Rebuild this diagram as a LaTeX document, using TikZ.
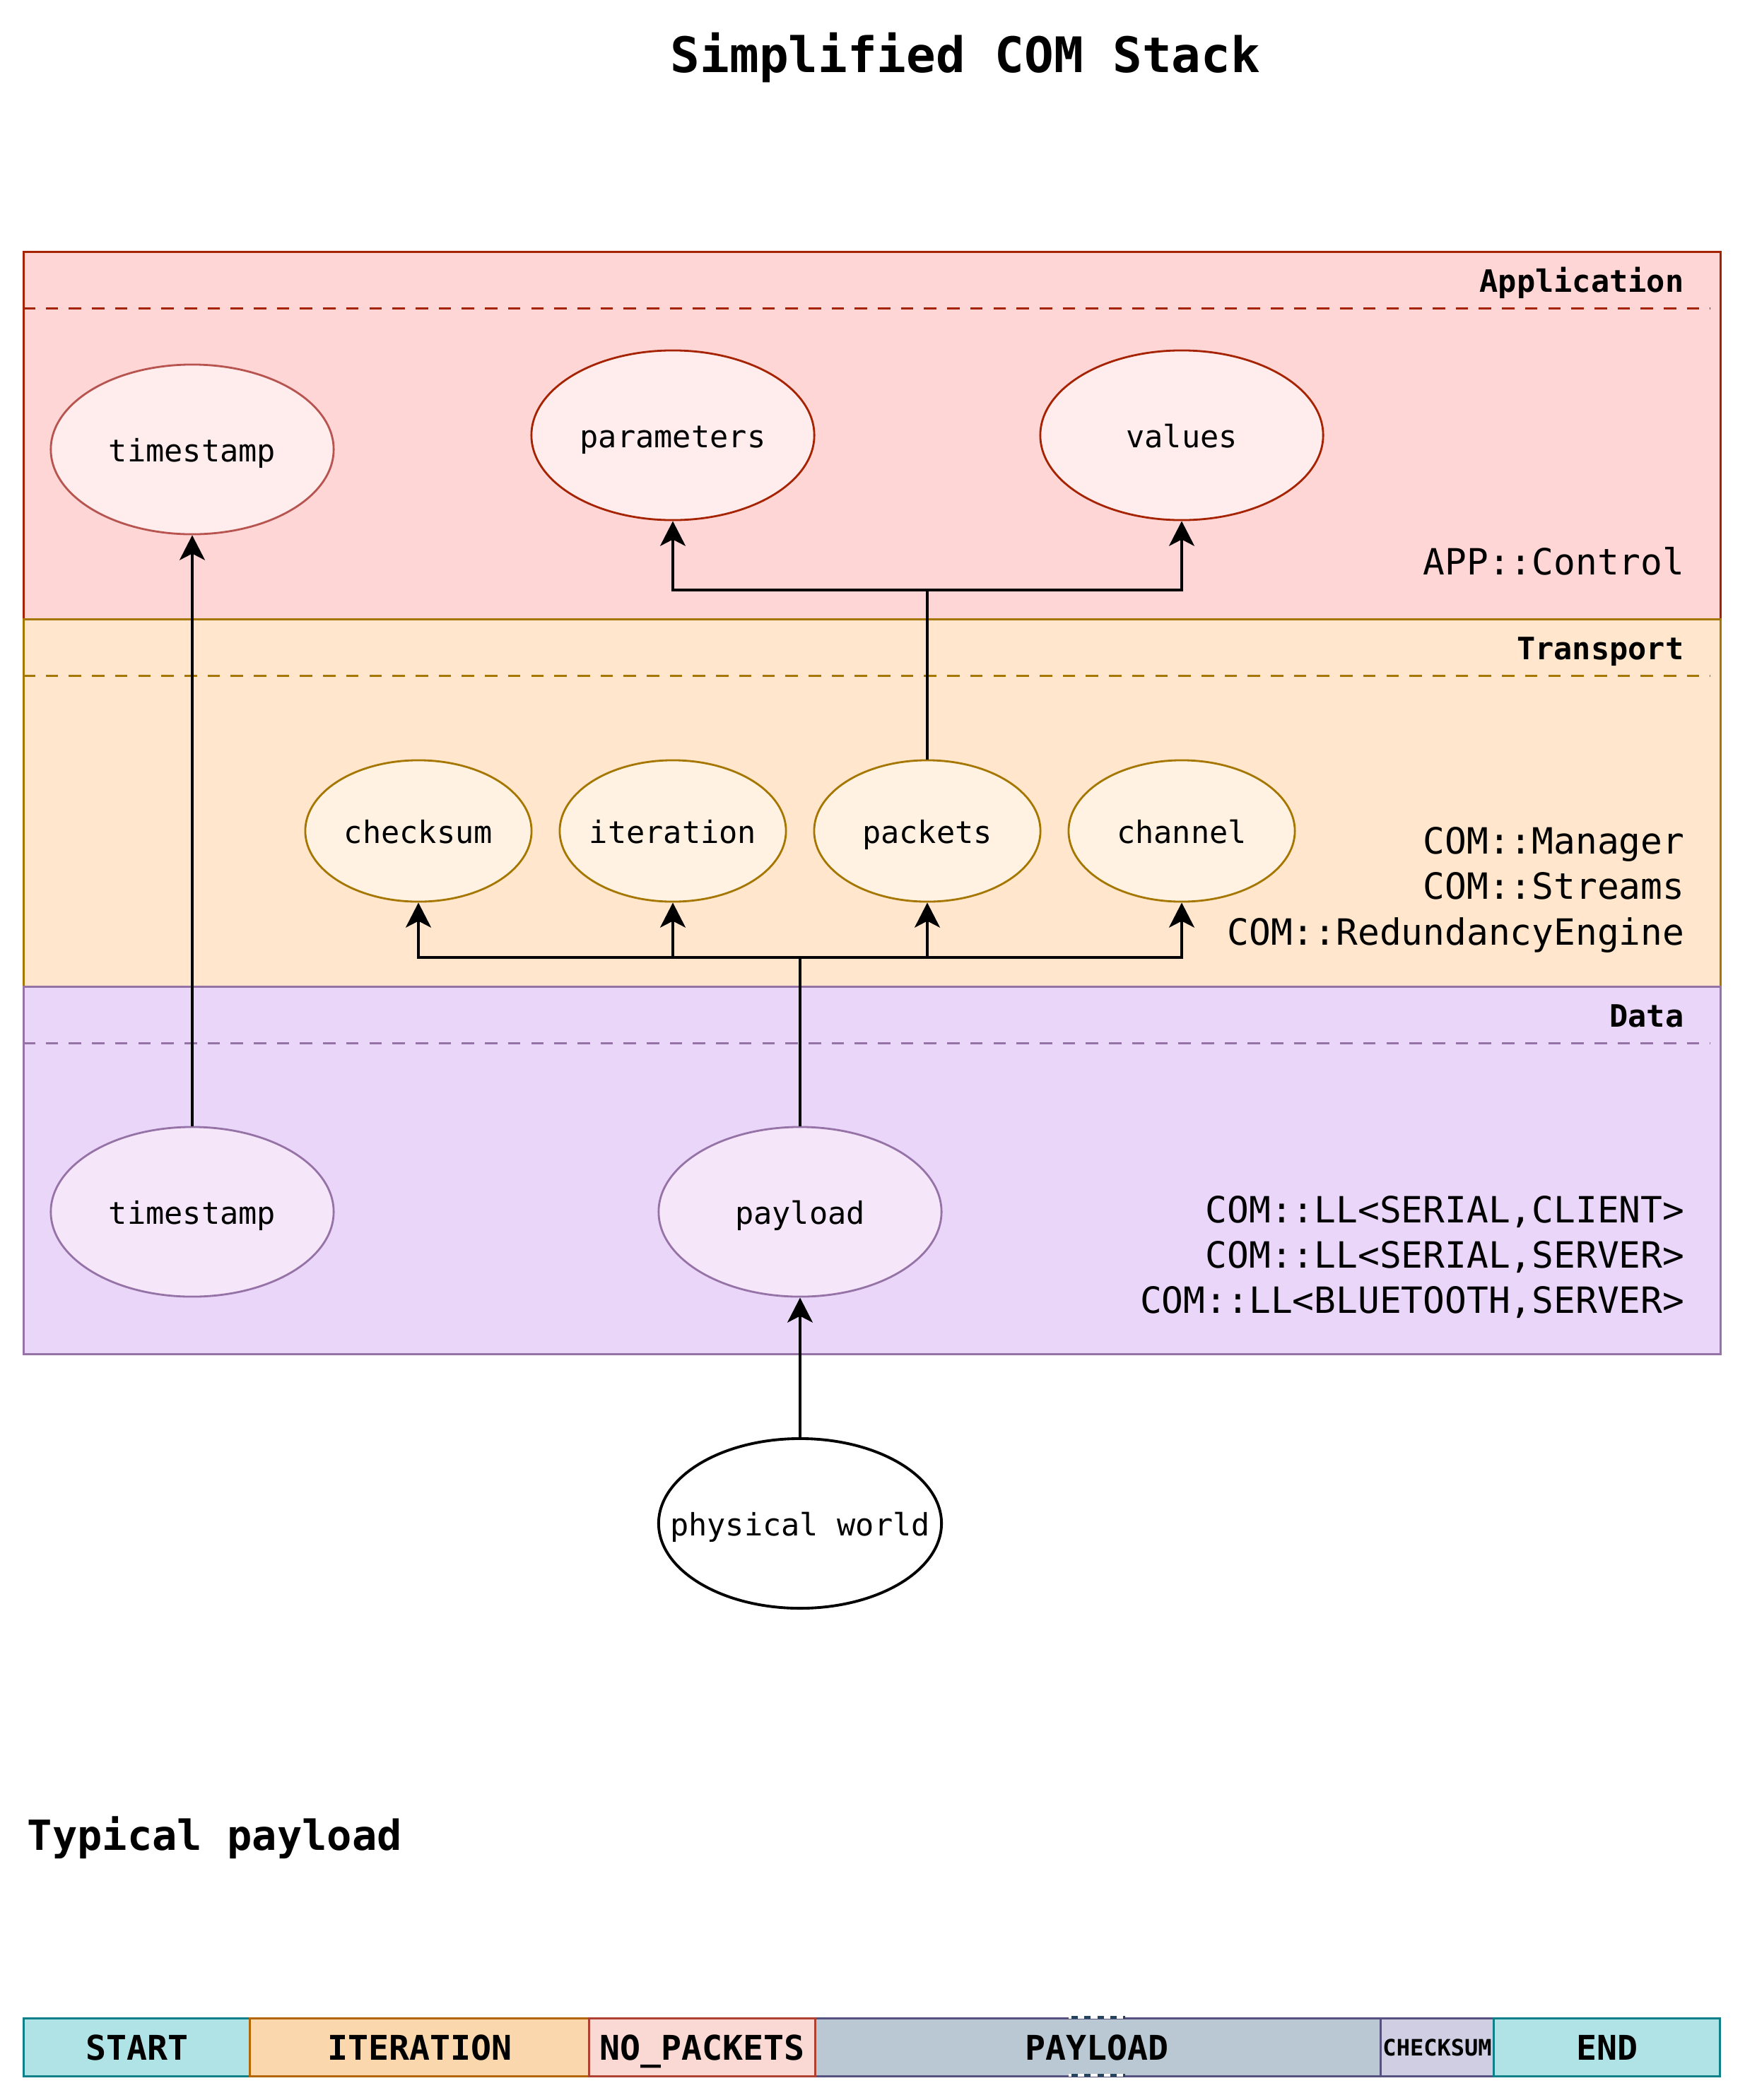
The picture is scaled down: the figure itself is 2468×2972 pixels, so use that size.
\documentclass[tikz,border=0pt]{standalone}
\usepackage{fontspec}
\setmonofont{DejaVu Sans Mono}
\usetikzlibrary{shapes.geometric,arrows.meta}
\definecolor{appfill}{HTML}{FFD6D6}
\definecolor{appstroke}{HTML}{A52300}
\definecolor{appell}{HTML}{FFECEC}
\definecolor{tsstroke}{HTML}{B85450}
\definecolor{trfill}{HTML}{FFE6CC}
\definecolor{trstroke}{HTML}{A67700}
\definecolor{trell}{HTML}{FFF2E2}
\definecolor{dafill}{HTML}{EAD6F9}
\definecolor{dastroke}{HTML}{9673A6}
\definecolor{daell}{HTML}{F5E6FA}
\definecolor{tealfill}{HTML}{B0E3E6}
\definecolor{tealstroke}{HTML}{0E8088}
\definecolor{orfill}{HTML}{FAD7AC}
\definecolor{orstroke}{HTML}{B46504}
\definecolor{rdfill}{HTML}{FAD9D5}
\definecolor{rdstroke}{HTML}{AE4132}
\definecolor{blfill}{HTML}{BAC8D3}
\definecolor{blstroke}{HTML}{23445D}
\definecolor{pufill}{HTML}{D0CEE2}
\definecolor{pustroke}{HTML}{56517E}
\begin{document}
\begin{tikzpicture}[x=0.01cm,y=-0.01cm,
  layer/.style={rectangle, inner sep=0pt, minimum width=24cm, minimum height=5.2cm, anchor=north west, line width=0.85pt},
  sep/.style={line width=0.85pt, dash pattern=on 5pt off 4.3pt},
  ell/.style={ellipse, draw, line width=0.8pt, inner sep=0pt, minimum width=4cm, minimum height=2.4cm, text height=10.2pt, text depth=0pt, font=\ttfamily\fontsize{12.4}{15}\selectfont},
  sell/.style={ell, minimum width=3.2cm, minimum height=2cm},
  lbl/.style={inner sep=0pt, anchor=base east, font=\ttfamily\bfseries\fontsize{12.4}{15}\selectfont},
  rt/.style={inner sep=0pt, anchor=base east, font=\ttfamily\fontsize{14.55}{17}\selectfont},
  conn/.style={line width=1.14pt, black},
  arr/.style={conn, -{Stealth[length=10pt, width=10.2pt, inset=2.6pt]}},
  seg/.style={rectangle, draw, line width=0.85pt, inner sep=0pt, anchor=north west, minimum height=0.82cm, text depth=0pt, font=\ttfamily\bfseries\fontsize{13.7}{16}\selectfont}
]
\useasboundingbox (0,0) rectangle (2468,2972);

% title
\node[inner sep=0pt, anchor=base, font=\ttfamily\bfseries\fontsize{19.7}{24}\selectfont] (title) at (1366,102) {Simplified COM Stack};

% layers
\node[layer, fill=appfill, draw=appstroke] (app) at (32,355) {};
\node[layer, fill=trfill, draw=trstroke] (tr) at (32,875) {};
\node[layer, fill=dafill, draw=dastroke] (da) at (32,1395) {};

\draw[sep, appstroke] (32,436) -- (2420,436);
\draw[sep, trstroke] (32,956) -- (2420,956);
\draw[sep, dastroke] (32,1476) -- (2420,1476);

\node[lbl] (appLbl) at (2383,413) {Application};
\node[lbl] (trLbl) at (2383,933) {Transport};
\node[lbl] (daLbl) at (2383,1453) {Data};

\node[rt] (appCtl) at (2384,813) {APP::Control};
\node[rt] (mgr) at (2384,1208) {COM::Manager};
\node[rt] (str) at (2384,1272) {COM::Streams};
\node[rt] (red) at (2384,1337) {COM::RedundancyEngine};
\node[rt] (ll1) at (2384,1730) {COM::LL<SERIAL,CLIENT>};
\node[rt] (ll2) at (2384,1794) {COM::LL<SERIAL,SERVER>};
\node[rt] (ll3) at (2384,1858) {COM::LL<BLUETOOTH,SERVER>};

% ellipses
\node[ell, fill=appell, draw=tsstroke] (appTs) at (272,636) {\makebox[0pt]{timestamp}};
\node[ell, fill=appell, draw=appstroke] (params) at (952,616) {\makebox[0pt]{parameters}};
\node[ell, fill=appell, draw=appstroke] (values) at (1672,616) {\makebox[0pt]{values}};

\node[sell, fill=trell, draw=trstroke] (checksum) at (592,1176) {\makebox[0pt]{checksum}};
\node[sell, fill=trell, draw=trstroke] (iteration) at (952,1176) {\makebox[0pt]{iteration}};
\node[sell, fill=trell, draw=trstroke] (packets) at (1312,1176) {\makebox[0pt]{packets}};
\node[sell, fill=trell, draw=trstroke] (channel) at (1672,1176) {\makebox[0pt]{channel}};

\node[ell, fill=daell, draw=dastroke] (daTs) at (272,1715) {\makebox[0pt]{timestamp}};
\node[ell, fill=daell, draw=dastroke] (payload) at (1132,1715) {\makebox[0pt]{payload}};

\node[ell, fill=white, draw=black, line width=1.1pt] (phys) at (1132,2156) {\makebox[0pt]{physical world}};

% connectors
\coordinate (jA) at (1312,835);
\coordinate (jB) at (1132,1355);
\draw[arr] (daTs.north) -- (appTs.south);
\draw[conn] (packets.north) -- (jA);
\draw[arr] (jA) -| (params.south);
\draw[arr] (jA) -| (values.south);
\draw[conn] (payload.north) -- (jB);
\draw[arr] (jB) -| (checksum.south);
\draw[arr] (jB) -| (iteration.south);
\draw[arr] (jB) -| (packets.south);
\draw[arr] (jB) -| (channel.south);
\draw[arr] (phys.north) -- (payload.south);

% typical payload
\node[inner sep=0pt, anchor=base west, font=\ttfamily\bfseries\fontsize{16.7}{20}\selectfont] (typ) at (38,2618) {Typical payload};

\node[seg, fill=blfill, draw=pustroke, minimum width=8cm] (pl) at (1152,2855) {\hspace*{-0.04cm}PAYLOAD};
\draw[white, line width=0.9pt] (1512,2855) -- (1592,2855) (1512,2937) -- (1592,2937);
\draw[blstroke, line width=0.9pt, dash pattern=on 2.6pt off 2.6pt] (1516,2855) -- (1592,2855) (1516,2937) -- (1592,2937);
\node[seg, fill=tealfill, draw=tealstroke, minimum width=3.2cm] (start) at (32,2855) {START};
\node[seg, fill=orfill, draw=orstroke, minimum width=4.8cm] (iter) at (352,2855) {ITERATION};
\node[seg, fill=rdfill, draw=rdstroke, minimum width=3.2cm] (nop) at (832,2855) {NO\_PACKETS};
\node[seg, fill=pufill, draw=pustroke, minimum width=1.6cm, font=\ttfamily\bfseries\fontsize{9.1}{11}\selectfont] (chk) at (1952,2855) {CHECKSUM};
\node[seg, fill=tealfill, draw=tealstroke, minimum width=3.2cm] (endseg) at (2112,2855) {END};
\end{tikzpicture}
\end{document}
